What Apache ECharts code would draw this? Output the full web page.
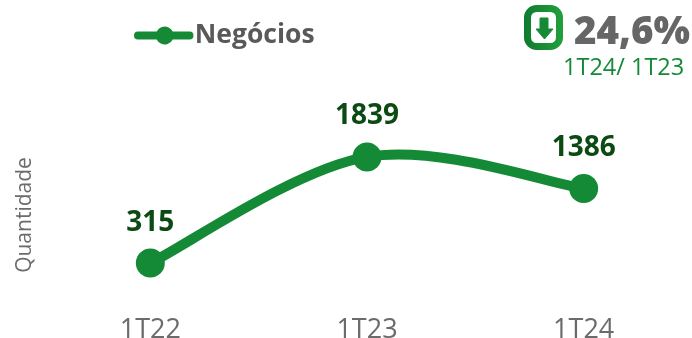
<!DOCTYPE html>
<html><head><meta charset="utf-8">
<style>html,body{margin:0;padding:0;background:#fff}#c{width:692px;height:338px}</style>
<script src="https://cdn.jsdelivr.net/npm/echarts@6/dist/echarts.min.js"></script>
</head><body><div id="c"></div>
<script>
const categories = ["1T22","1T23","1T24"];
const negocios = [315,1839,1386];
const chart = echarts.init(document.getElementById('c'));
const green='#148a36', dark='#0b4a12';
const iconGrad=new echarts.graphic.LinearGradient(0,0,1,0,[{offset:0,color:'#0f7a2f'},{offset:1,color:'#22a03c'}]);
function curveSegment(params, api){
  const i=params.dataIndex;
  if(i>=negocios.length-1) return null;
  const pt=k=>api.coord([categories[Math.max(0,Math.min(negocios.length-1,k))],negocios[Math.max(0,Math.min(negocios.length-1,k))]]);
  const p0=pt(i-1),p1=pt(i),p2=pt(i+1),p3=pt(i+2);
  const c1=[p1[0]+(p2[0]-p0[0])/6,p1[1]+(p2[1]-p0[1])/6];
  const c2=[p2[0]-(p3[0]-p1[0])/6,p2[1]-(p3[1]-p1[1])/6];
  return {type:'bezierCurve',shape:{x1:p1[0],y1:p1[1],cpx1:c1[0],cpy1:c1[1],cpx2:c2[0],cpy2:c2[1],x2:p2[0],y2:p2[1]},
    style:{fill:null,stroke:green,lineWidth:10,lineCap:'round'}};
}
chart.setOption({
  animation:false,
  grid:{left:42,right:0,top:83,bottom:53,outerBoundsMode:'none'},
  legend:{show:true,left:129,top:17,itemWidth:60,itemHeight:18,itemGap:2,
    icon:'path://M4 5H22.9A9 9 0 0 1 39.1 5H56A4 4 0 0 1 56 13H39.1A9 9 0 0 1 22.9 13H4A4 4 0 0 1 4 5Z',
    textStyle:{fontFamily:'Open Sans',fontSize:26.5,fontWeight:'bold',color:'#595959',padding:[0,0,0,-4]},
    data:['Negócios']},
  xAxis:{type:'category',data:categories,
    axisLine:{show:false},axisTick:{show:false},
    axisLabel:{fontFamily:'Open Sans',fontSize:27,color:'#6b6b6b',margin:32}},
  yAxis:{type:'value',min:0,max:2900,
    axisLine:{show:false},axisTick:{show:false},axisLabel:{show:false},splitLine:{show:false}},
  series:[
    {name:'curve',type:'custom',data:negocios.map((v,i)=>[categories[i],v]),renderItem:curveSegment,z:2,silent:true,
     encode:{x:0,y:1}},
    {name:'Negócios',type:'line',data:negocios,symbol:'circle',symbolSize:29,z:3,
     lineStyle:{color:green,width:0,opacity:0},itemStyle:{color:green},
     label:{show:true,position:'top',distance:12,fontFamily:'Open Sans',fontSize:28,fontWeight:'bold',color:dark}}],
  graphic:[
    {type:'rect',shape:{x:527.5,y:8.5,width:32,height:38,r:9},style:{fill:'#fff',stroke:iconGrad,lineWidth:7}},
    {type:'polygon',shape:{points:[[540,18],[548,18],[548,29],[553,29],[544.5,39],[536,29],[540,29]]},style:{fill:green,stroke:green,lineWidth:1,lineJoin:'round'}},
    {type:'text',left:574,top:14,style:{text:'24,6%',fontFamily:'Open Sans',fontSize:38.5,fontWeight:800,fill:'#666666'}},
    {type:'text',left:563,top:56,style:{text:'1T24/ 1T23',fontFamily:'Open Sans',fontSize:23.5,fill:green}},
    {type:'text',x:25,y:215,rotation:Math.PI/2,style:{text:'Quantidade',fontFamily:'Open Sans',fontSize:21,fill:'#6b6b6b',align:'center',verticalAlign:'middle'}}
  ]
});
</script></body></html>
